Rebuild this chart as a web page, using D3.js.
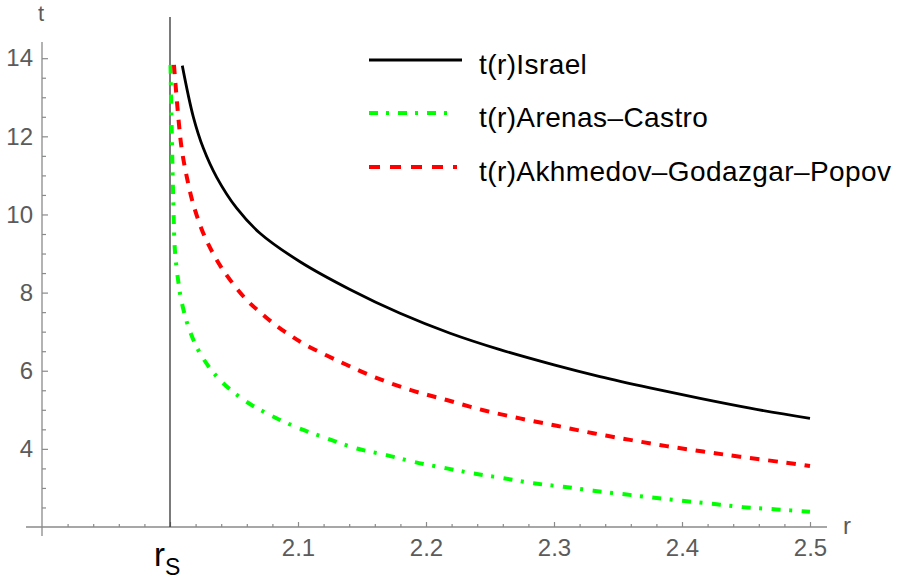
<!DOCTYPE html>
<html>
<head>
<meta charset="utf-8">
<script src="https://cdn.jsdelivr.net/npm/d3@7"></script>
<style>
  html, body { margin: 0; padding: 0; background: #fff; }
  svg { display: block; font-family: "Liberation Sans", Arial, sans-serif; }
</style>
</head>
<body>
<svg id="chart" width="913" height="580"></svg>
<script>
// ---------- data ----------
const israelR = [2.0096, 2.0182, 2.026, 2.0365, 2.0521, 2.0703, 2.1016, 2.1406, 2.1797, 2.2188, 2.2578, 2.3, 2.3359, 2.375, 2.4141, 2.4531, 2.5];
const israelT = [13.81, 12.5, 11.7, 10.95, 10.16, 9.52, 8.79, 8.08, 7.47, 6.96, 6.54, 6.15, 5.85, 5.56, 5.29, 5.04, 4.78];

const arenasR = [2.0004, 2.0013, 2.0026, 2.0039, 2.0065, 2.0086, 2.0143, 2.0234, 2.0377, 2.056, 2.0755, 2.0977, 2.1224, 2.1459, 2.1693, 2.1901, 2.2162, 2.237, 2.2604, 2.2838, 2.3073, 2.3307, 2.3568, 2.3802, 2.4037, 2.4271, 2.4505, 2.474, 2.5];
const arenasT = [13.83, 12.25, 10.29, 9.05, 8.28, 7.84, 7.13, 6.45, 5.81, 5.29, 4.91, 4.57, 4.27, 4.01, 3.84, 3.67, 3.50, 3.37, 3.25, 3.12, 3.03, 2.93, 2.83, 2.74, 2.66, 2.58, 2.50, 2.45, 2.39];

const akhR = [2.0031, 2.0065, 2.0091, 2.013, 2.0182, 2.0273, 2.0416, 2.0605, 2.0703, 2.082, 2.0938, 2.1055, 2.1328, 2.1588, 2.1875, 2.2162, 2.2448, 2.2734, 2.3021, 2.3307, 2.3594, 2.388, 2.4166, 2.4453, 2.4896, 2.5];
const akhT = [13.83, 12.49, 11.69, 10.98, 10.26, 9.42, 8.57, 7.79, 7.50, 7.18, 6.91, 6.67, 6.23, 5.85, 5.51, 5.25, 4.99, 4.78, 4.59, 4.40, 4.23, 4.07, 3.93, 3.80, 3.61, 3.56];

const seriesNames = ["t(r)Israel", "t(r)Arenas\u2013Castro", "t(r)Akhmedov\u2013Godazgar\u2013Popov"];
const seriesColors = ["#000000", "#00ff00", "#ff0000"];

const xMajorTicks = [2.0, 2.1, 2.2, 2.3, 2.4, 2.5];
const xTickLabels = ["", "2.1", "2.2", "2.3", "2.4", "2.5"];
const xMinorTicks = [1.92, 1.94, 1.96, 1.98, 2.02, 2.04, 2.06, 2.08, 2.12, 2.14, 2.16, 2.18, 2.22, 2.24, 2.26, 2.28, 2.32, 2.34, 2.36, 2.38, 2.42, 2.44, 2.46, 2.48];
const yMajorTicks = [4, 6, 8, 10, 12, 14];
const yMinorTicks = [2.5, 3, 3.5, 4.5, 5, 5.5, 6.5, 7, 7.5, 8.5, 9, 9.5, 10.5, 11, 11.5, 12.5, 13, 13.5];
const rS = 2.0;

// ---------- layout ----------
const svg = d3.select("#chart");
const x = d3.scaleLinear().domain([1.9, 2.5]).range([42, 810]);
const y = d3.scaleLinear().domain([2, 14]).range([527, 58.2]);
const axisColor = "#8a8a8a";
const labelColor = "#5b5b5b";

// axis lines (extend past origin like Mathematica)
svg.append("line").attr("x1", 26).attr("x2", 827).attr("y1", y(2)).attr("y2", y(2))
  .attr("stroke", axisColor).attr("stroke-width", 1.3);
svg.append("line").attr("x1", x(1.9)).attr("x2", x(1.9)).attr("y1", 42).attr("y2", 536)
  .attr("stroke", axisColor).attr("stroke-width", 1.3);

// x axis ticks
const gx = svg.append("g").attr("transform", `translate(0,${y(2)})`);
gx.call(d3.axisBottom(x).tickValues(xMajorTicks).tickSize(-5).tickPadding(12)
  .tickFormat((d, i) => xTickLabels[i]));
const gxm = svg.append("g").attr("transform", `translate(0,${y(2)})`);
gxm.call(d3.axisBottom(x).tickValues(xMinorTicks).tickSize(-3).tickFormat(""));

// y axis ticks
const gy = svg.append("g").attr("transform", `translate(${x(1.9)},0)`);
gy.call(d3.axisLeft(y).tickValues(yMajorTicks).tickSize(-6).tickPadding(9).tickFormat(d3.format("d")));
const gym = svg.append("g").attr("transform", `translate(${x(1.9)},0)`);
gym.call(d3.axisLeft(y).tickValues(yMinorTicks).tickSize(-4).tickFormat(""));

[gx, gxm, gy, gym].forEach(g => {
  g.select(".domain").remove();
  g.selectAll(".tick line").attr("stroke", axisColor).attr("stroke-width", 1.2);
  g.selectAll(".tick text").attr("fill", labelColor).attr("font-size", 24)
    .attr("font-family", "'Liberation Sans', Arial, sans-serif");
});

// axis labels
svg.append("text").attr("x", 41).attr("y", 21).attr("text-anchor", "middle")
  .attr("font-size", 22).attr("fill", labelColor).text("t");
svg.append("text").attr("x", 843).attr("y", 534)
  .attr("font-size", 24).attr("fill", labelColor).text("r");

// r_S vertical line and label
svg.append("line").attr("x1", x(rS)).attr("x2", x(rS)).attr("y1", 17).attr("y2", y(2))
  .attr("stroke", "#333").attr("stroke-width", 1.3);
const rsText = svg.append("text").attr("x", 154).attr("y", 566).attr("fill", "#000")
  .attr("font-size", 33);
rsText.append("tspan").text("r");
rsText.append("tspan").attr("font-size", 23).attr("dy", 9).attr("dx", 0).text("S");

// ---------- curves ----------
const line = d3.line().x(d => x(d[0])).y(d => y(d[1])).curve(d3.curveCatmullRom.alpha(0.5));
const series = [
  { r: israelR, t: israelT, dash: null, width: 2.8 },
  { r: arenasR, t: arenasT, dash: "9,8.5,3,9.5", width: 4 },
  { r: akhR, t: akhT, dash: "9.5,8.8", width: 4 }
];
series.forEach((s, i) => {
  const pts = s.r.map((r, k) => [r, s.t[k]]);
  svg.append("path").datum(pts).attr("d", line).attr("fill", "none")
    .attr("stroke", seriesColors[i]).attr("stroke-width", s.width)
    .attr("stroke-dasharray", s.dash);
});

// ---------- legend ----------
const legY = [60, 113, 167];
const legX2 = [462, 455, 457];
const legendDash = [null, "9,8,3,9", "11,10"];
series.forEach((s, i) => {
  svg.append("line").attr("x1", 369).attr("x2", legX2[i]).attr("y1", legY[i]).attr("y2", legY[i])
    .attr("stroke", seriesColors[i]).attr("stroke-width", s.width)
    .attr("stroke-dasharray", legendDash[i]);
  svg.append("text").attr("x", 479).attr("y", legY[i] + 7).attr("dominant-baseline", "middle")
    .attr("font-size", 28).attr("letter-spacing", 0.4).attr("fill", "#000").text(seriesNames[i]);
});
</script>
</body>
</html>
